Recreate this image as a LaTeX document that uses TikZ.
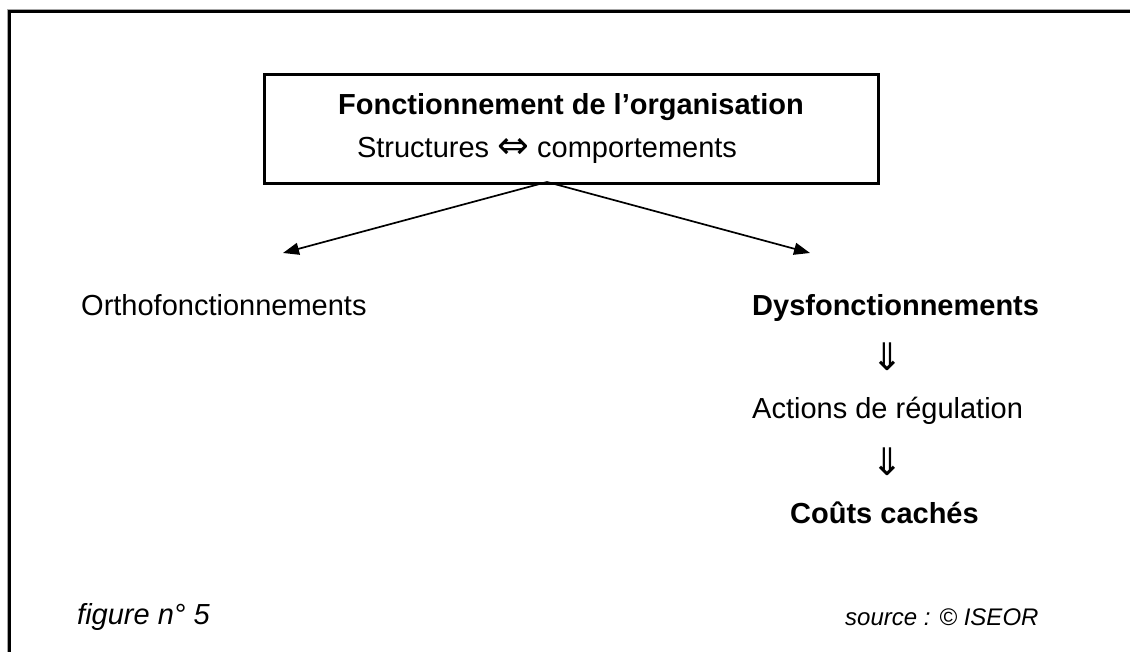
\documentclass[tikz,border=0pt]{standalone}
\usepackage{fontspec}
\setmainfont{Liberation Sans}
\newfontfamily\arrowfont{DejaVu Sans}
\usetikzlibrary{arrows.meta}
\begin{document}
\begin{tikzpicture}[x=1pt,y=-1pt,
  txt/.style={inner sep=0pt, font=\fontsize{29}{34}\selectfont},
  boldtxt/.style={txt, font=\fontsize{29}{34}\selectfont\bfseries},
  itxt/.style={txt, font=\fontsize{29}{34}\selectfont\itshape},
  smalltxt/.style={txt, font=\fontsize{24}{28}\selectfont\itshape},
  implies/.style={inner sep=0pt, font=\fontsize{38}{40}\selectfont\arrowfont},
  mainbox/.style={draw, line width=2.8pt, inner sep=0pt,
    minimum width=614pt, minimum height=109pt},
  flow/.style={line width=1.7pt, -{Triangle[length=16pt,width=12pt]}},
  frameline/.style={line width=2.2pt, black}]
\useasboundingbox (0,0) rectangle (1130,652);
\fill[white] (0,0) rectangle (1130,652);

% outer frame (left and top edges)
\draw[gray!70, line width=1pt] (7.5,652) -- (7.5,9.5) -- (1130,9.5);
\draw[frameline] (9.5,652) -- (9.5,11.5) -- (1130,11.5);

% central box
\node[mainbox] (box) at (571.5,129) {};
\node[boldtxt, anchor=base] (title) at (571,115) {Fonctionnement de l’organisation};
\node[txt, anchor=base] (relation) at (547,158)
  {Structures {\fontsize{38}{40}\selectfont\arrowfont\raisebox{-1pt}{⇔}} comportements};

% fork of the two arrows
\coordinate (fork) at (547,182);
\coordinate (lefttip) at (283,253);
\coordinate (righttip) at (810,253);
\draw[flow] (fork) -- (lefttip);
\draw[flow] (fork) -- (righttip);

% left branch
\node[txt, anchor=base west] (ortho) at (81,316) {Orthofonctionnements};

% right branch
\node[boldtxt, anchor=base west] (dys) at (752,316) {Dysfonctionnements};
\node[implies] (imp1) at (887,357) {⇓};
\node[txt, anchor=base west] (actions) at (752,418) {Actions de régulation};
\node[implies] (imp2) at (887,462) {⇓};
\node[boldtxt, anchor=base west] (couts) at (790,523) {Coûts cachés};

% captions
\node[itxt, anchor=base west] (figno) at (77,624) {figure n° 5};
\node[smalltxt, anchor=base west] (source) at (845,625) {source : © ISEOR};
\end{tikzpicture}
\end{document}
